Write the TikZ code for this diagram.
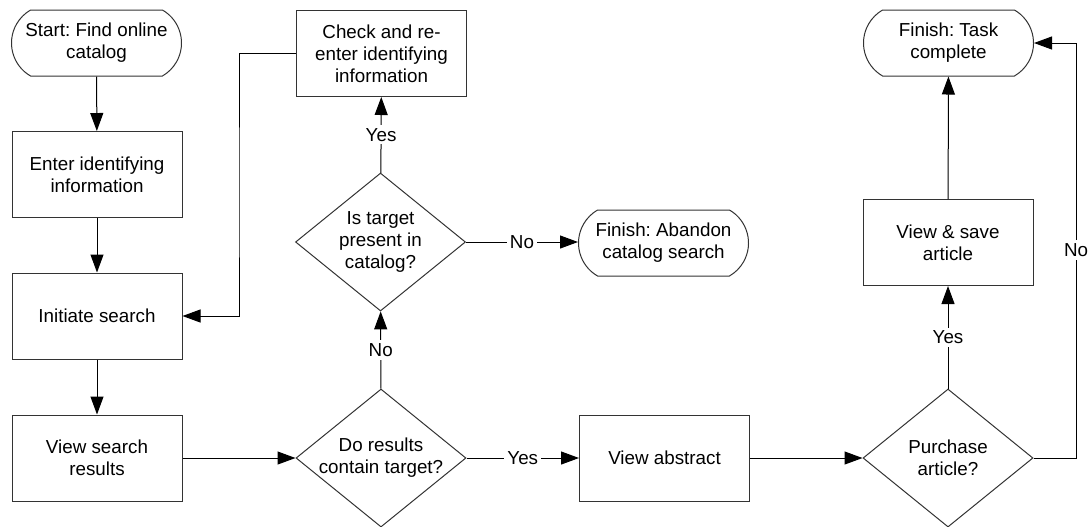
\documentclass[tikz,border=0pt]{standalone}
\usepackage{fontspec}
\setmainfont{Liberation Sans}
\usetikzlibrary{shapes.geometric,shapes.misc,arrows.meta}
\frenchspacing
\tikzset{
  box/.style={draw=black!80,rectangle,minimum width=85pt,minimum height=43pt,align=center,inner sep=1pt},
  term/.style={draw=black!80,rounded rectangle,rounded rectangle arc length=120,minimum width=85pt,minimum height=33pt,align=center,inner sep=0pt},
  decide/.style={draw=black!80,diamond,shape aspect=1.232,minimum width=85pt,minimum height=69pt,align=center,inner sep=-1.5pt},
  lbl/.style={fill=white,inner sep=1.5pt},
  flow/.style={draw=black,-{Triangle[length=9pt,width=6.5pt]}}
}

\begin{document}
\begin{tikzpicture}[x=0.5pt,y=-0.5pt,line width=0.5pt,font=\fontsize{9.4}{10.9}\selectfont]
    \useasboundingbox (0,0) rectangle (1090,526);
    \node[term] (start) at (96.5,43) {Start: Find online\\catalog};
    \node[box] (enter) at (97,174.5) {Enter identifying\\information};
    \node[box] (init) at (97,316) {Initiate search};
    \node[box] (view) at (97,458) {View search\\results};
    \node[box] (check) at (381.5,53.5) {Check and re-\\enter identifying\\information};
    \node[decide] (target) at (380.5,242) {Is target\\present in\\catalog?};
    \node[term] (abandon) at (663.5,243) {Finish: Abandon\\catalog search};
    \node[decide] (results) at (381,458) {Do results\\contain target?};
    \node[box] (abstract) at (664.5,458) {View abstract};
    \node[decide] (purchase) at (948,458) {Purchase\\article?};
    \node[box] (save) at (948,242.5) {View \& save\\article};
    \node[term] (finish) at (948.5,43) {Finish: Task\\complete};
    \coordinate (loop) at (239,200);
    \coordinate (noturn) at (1076,250);
    \draw[flow] (start) -- (enter);
    \draw[flow] (enter) -- (init);
    \draw[flow] (init) -- (view);
    \draw[flow] (view) -- (results);
    \draw[flow] (results) -- node[lbl] {No} (target);
    \draw[flow] (target) -- node[lbl] {Yes} (check);
    \draw[flow] (target.east) -- node[lbl] {No} (abandon.west |- target.east);
    \draw[flow] (check.west) -| (loop) |- (init.east);
    \draw[flow] (results) -- node[lbl] {Yes} (abstract);
    \draw[flow] (abstract) -- (purchase);
    \draw[flow] (purchase) -- node[lbl] {Yes} (save);
    \draw[flow] (save) -- (finish);
    \draw[flow] (purchase.east) -| (noturn) |- (finish.east);
    \node[lbl] (nolbl) at (noturn) {No};
  \end{tikzpicture}
\end{document}
